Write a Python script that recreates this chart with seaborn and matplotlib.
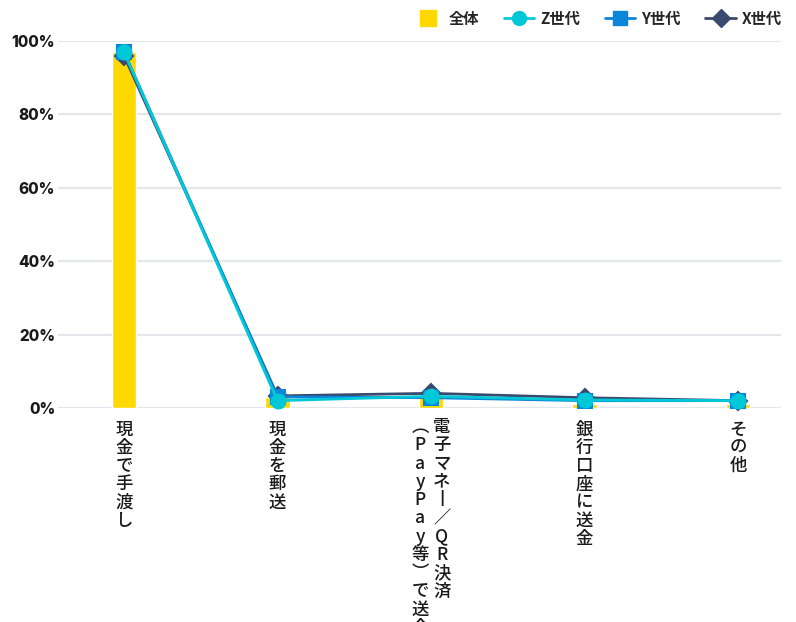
import pandas as pd
import matplotlib
matplotlib.use('Agg')
import matplotlib.pyplot as plt
import matplotlib.transforms as mtransforms
from matplotlib.lines import Line2D
import seaborn as sns

# data
categories = ['現金で手渡し', '現金を郵送', '電子マネー／QR決済（PayPay等）で送金',
              '銀行口座に送金', 'その他']
total = [97, 3, 3, 1.2, 1]
gen_z = [97, 2, 3.2, 2.2, 2]
gen_y = [97, 3, 2.8, 2, 2]
gen_x = [96, 3.3, 4, 2.8, 2]
yticks = [0, 20, 40, 60, 80, 100]

c_total = '#FFD800'
c_z = '#00C8D6'
c_y = '#0A86DA'
c_x = '#3A4A6E'

# style set
sns.set_style('white')
plt.rcParams['font.family'] = ['Noto Sans CJK JP', 'DejaVu Sans']

fig = plt.figure(figsize=(7.96, 6.22), dpi=100)
ax = fig.add_axes([58 / 796, 1 - 408 / 622, (781 - 58) / 796, (408 - 41) / 622])

df = pd.DataFrame({'cat': categories, 'total': total, 'z': gen_z, 'y': gen_y, 'x': gen_x})

# bars
sns.barplot(data=df, x='cat', y='total', color=c_total, width=0.16,
            saturation=1, ax=ax, zorder=2)

# lines
sns.pointplot(data=df, x='cat', y='x', color=c_x, markers='D', errorbar=None,
              markersize=9, linewidth=2, ax=ax)
sns.pointplot(data=df, x='cat', y='y', color=c_y, markers='s', errorbar=None,
              markersize=9.5, linewidth=2, ax=ax)
sns.pointplot(data=df, x='cat', y='z', color=c_z, markers='o', errorbar=None,
              markersize=10, linewidth=2, ax=ax)
for coll in ax.lines + ax.collections:
    coll.set_clip_on(False)

ax.set_ylim(0, 100)
ax.set_xlim(-0.43, 4.28)
ax.set_yticks(yticks)
ax.set_yticklabels([f'{v}%' for v in yticks], fontsize=11, fontweight='heavy',
                   family=['Inter', 'DejaVu Sans'], color='#1A1A1A')
ax.grid(axis='y', color='#E3E6EA', linewidth=1.6, zorder=0)
ax.set_axisbelow(True)
for s in ax.spines.values():
    s.set_visible(False)
ax.tick_params(axis='both', length=0)
ax.tick_params(axis='y', pad=2)
ax.set_xlabel('')
ax.set_ylabel('')

# vertical (tategaki) category labels
def vert(s):
    s = s.replace('ー', '丨').replace('（', '︵').replace('）', '︶')
    return '\n'.join(list(s))

lab_kw = dict(fontsize=12.5, color='#1A1A1A', linespacing=1.02, fontweight='medium')
labels = [vert(c) for c in categories]
labels[2] = ''
ax.set_xticks(range(len(categories)))
ax.set_xticklabels(labels, va='top', **lab_kw)
ax.tick_params(axis='x', pad=9)

trans = mtransforms.blended_transform_factory(ax.transData, fig.transFigure)
ax.text(2.07, 1 - 418 / 622, vert('電子マネー／QR決済'), transform=trans,
        ha='center', va='top', **lab_kw)
ax.text(1.93, 1 - 418 / 622, vert('（PayPay等）で送金'), transform=trans,
        ha='center', va='top', **lab_kw)

# legend
handles = [
    Line2D([], [], color=c_total, marker='s', markersize=12, linewidth=0),
    Line2D([], [], color=c_z, marker='o', markersize=10, linewidth=2),
    Line2D([], [], color=c_y, marker='s', markersize=9.5, linewidth=2),
    Line2D([], [], color=c_x, marker='D', markersize=9, linewidth=2),
]
fig.legend(handles, ['全体', 'Z世代', 'Y世代', 'X世代'], loc='upper right',
           bbox_to_anchor=(1.0, 1.005), ncol=4, frameon=False,
           prop={'weight': 'bold', 'size': 11}, handlelength=2.0,
           columnspacing=1.6, handletextpad=0.4)

fig.savefig('out.png', dpi=100)
